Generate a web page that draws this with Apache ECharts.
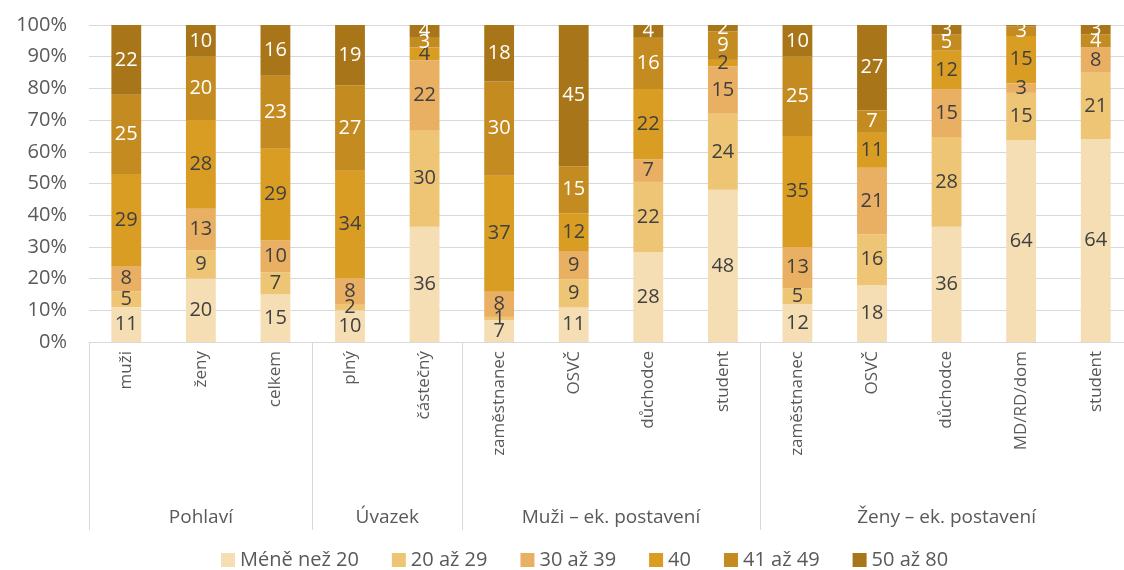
<!DOCTYPE html>
<html>
<head>
<meta charset="utf-8">
<script src="https://cdn.jsdelivr.net/npm/echarts@6/dist/echarts.min.js"></script>
<style>
  html, body { margin: 0; padding: 0; background: #fff; overflow: hidden; }
  #chart { width: 1140px; height: 570px; }
</style>
</head>
<body>
<div id="chart"></div>
<script>
// categories and groups
const categories = ['muži', 'ženy', 'celkem', 'plný', 'částečný',
  'zaměstnanec', 'OSVČ', 'důchodce', 'student',
  'zaměstnanec', 'OSVČ', 'důchodce', 'MD/RD/dom', 'student'];
const groupNames = ['Pohlaví', 'Úvazek', 'Muži – ek. postavení', 'Ženy – ek. postavení'];
const groupSizes = [3, 2, 4, 5];

const seriesNames = ['Méně než 20', '20 až 29', '30 až 39', '40', '41 až 49', '50 až 80'];
const mene20  = [11, 20, 15, 10, 36,  7, 11, 28, 48, 12, 18, 36, 64, 64];
const az29    = [ 5,  9,  7,  2, 30,  1,  9, 22, 24,  5, 16, 28, 15, 21];
const az39    = [ 8, 13, 10,  8, 22,  8,  9,  7, 15, 13, 21, 15,  3,  8];
const ctyricet= [29, 28, 29, 34,  4, 37, 12, 22,  2, 35, 11, 12, 15,  0];
const az49    = [25, 20, 23, 27,  3, 30, 15, 16,  9, 25,  7,  5,  3,  4];
const az80    = [22, 10, 16, 19,  4, 18, 45,  4,  2, 10, 27,  3, 0.5, 3];
const yTicks = ['0%', '10%', '20%', '30%', '40%', '50%', '60%', '70%', '80%', '90%', '100%'];

const colors = ['#F5DEB3', '#EDC575', '#E9AF62', '#DA9D23', '#C48B21', '#A87619'];
const labelColors = ['#404040', '#404040', '#404040', '#404040', '#ffffff', '#ffffff'];
const font = 'Open Sans';

const raw = [mene20, az29, az39, ctyricet, az49, az80];
const totals = categories.map((c, i) => raw.reduce((s, arr) => s + arr[i], 0));

// group boundaries and centers (in category units)
const bounds = [0];
groupSizes.forEach(n => bounds.push(bounds[bounds.length - 1] + n));
const centers = {};
groupNames.forEach((g, i) => { centers[(bounds[i] + bounds[i + 1]) / 2] = g; });

const series = seriesNames.map((name, k) => ({
  name: name,
  type: 'bar',
  stack: 'total',
  barWidth: '40%',
  itemStyle: { color: colors[k] },
  label: {
    show: true,
    position: 'inside',
    color: labelColors[k],
    fontFamily: font,
    fontSize: 20,
    formatter: p => (p.data.raw >= 1 ? String(p.data.raw) : '')
  },
  data: raw[k].map((v, i) => ({ value: v / totals[i] * 100, raw: v }))
}));

const chart = echarts.init(document.getElementById('chart'));
chart.setOption({
  animation: false,
  textStyle: { fontFamily: font },
  grid: { left: 89, top: 25, width: 1044, height: 317 },
  legend: {
    left: 216,
    bottom: -5,
    itemWidth: 14,
    itemHeight: 14,
    itemGap: 33,
    icon: 'rect',
    textStyle: { fontFamily: font, fontSize: 20, color: '#595959' },
    data: seriesNames
  },
  xAxis: [
    {
      type: 'category',
      data: categories,
      axisLine: { lineStyle: { color: '#d9d9d9' } },
      axisTick: {
        show: true,
        length: 188,
        interval: (idx) => bounds.indexOf(idx) >= 0,
        lineStyle: { color: '#d9d9d9' }
      },
      axisLabel: {
        interval: 0,
        rotate: 90,
        margin: 9,
        fontFamily: font,
        fontSize: 17,
        color: '#595959'
      }
    },
    {
      type: 'value',
      position: 'bottom',
      offset: 158,
      min: 0,
      max: categories.length,
      interval: 0.5,
      axisLine: { show: false },
      axisTick: { show: false },
      splitLine: { show: false },
      axisLabel: {
        fontFamily: font,
        fontSize: 19,
        color: '#595959',
        showMinLabel: true,
        showMaxLabel: true,
        formatter: v => centers[v] || ''
      }
    }
  ],
  yAxis: {
    type: 'value',
    min: 0,
    max: 100,
    interval: 10,
    axisLine: { show: false },
    axisTick: { show: false },
    splitLine: { lineStyle: { color: '#d9d9d9' } },
    axisLabel: {
      margin: 22,
      fontFamily: font,
      fontSize: 20,
      color: '#595959',
      formatter: v => yTicks[Math.round(v / 10)]
    }
  },
  series: series
});
</script>
</body>
</html>
